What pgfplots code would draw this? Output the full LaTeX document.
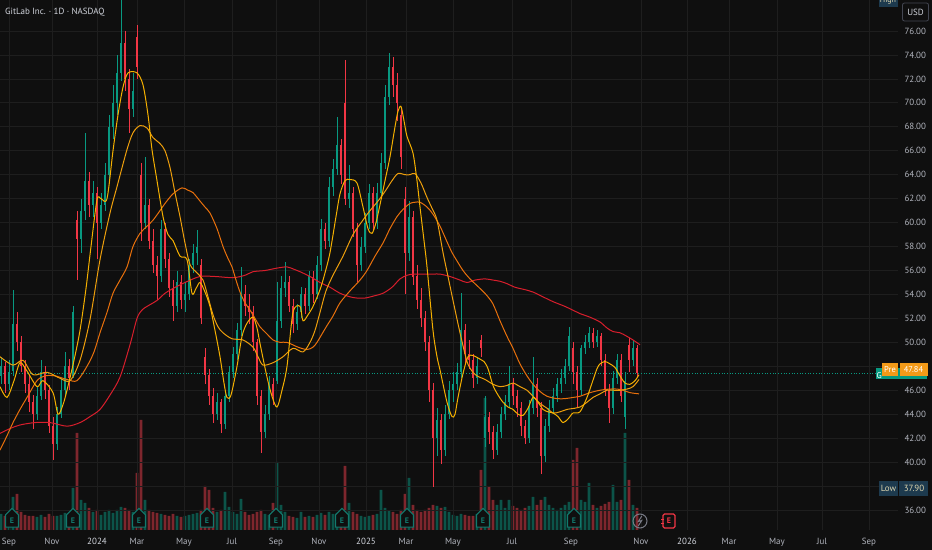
\documentclass[border=0pt]{standalone}
\usepackage{fontspec}
\setmainfont{PT Sans}
\usepackage{pgfplots}
\pgfplotsset{compat=1.18}
\usepackage{pgfplotstable}
\usetikzlibrary{shapes.symbols}
\definecolor{bg}{HTML}{0F0F0F}
\definecolor{gridc}{HTML}{1E1E1E}
\definecolor{txt}{HTML}{B2B5BE}
\definecolor{txtb}{HTML}{D1D4DC}
\definecolor{up}{HTML}{089981}
\definecolor{dn}{HTML}{F23645}
\definecolor{vup}{HTML}{0C5449}
\definecolor{vdn}{HTML}{7E262D}
\definecolor{maA}{HTML}{F5B000}
\definecolor{maB}{HTML}{EE9F0C}
\definecolor{maC}{HTML}{E8700C}
\definecolor{maD}{HTML}{D81E2C}
\definecolor{eteal}{HTML}{12796D}
\definecolor{lowbg}{HTML}{1D3A4E}
\definecolor{lowtx}{HTML}{DCD4AE}
\definecolor{prebg}{HTML}{F29A18}
\definecolor{boxgr}{HTML}{434651}
\definecolor{icongr}{HTML}{787B86}
\newcommand\lbl{\fontsize{9}{10}\selectfont}

\pgfplotstableread{
x o h l c v
1 47.2 48.8 46.5 48.0 16
5 48.0 48.4 45.8 46.5 14
9 46.5 48.5 46.0 47.5 13
13 47.6 54.4 47.2 51.5 33
17 51.5 52.5 49.3 50.0 36
21 50.0 50.5 47.5 48.0 18
25 48.0 48.5 45.8 46.5 15
29 46.5 47.2 44.2 45.0 14
33 45.0 45.6 42.8 44.0 14
37 44.0 46.3 43.5 45.5 13
41 45.5 48.5 45.2 47.5 15
45 47.5 48.0 45.3 46.0 13
49 46.0 46.4 42.4 43.0 16
53 43.0 43.8 40.2 41.5 14
57 41.5 44.6 41.0 44.0 14
61 44.0 47.0 43.7 46.0 15
65 46.0 49.2 45.5 48.0 17
69 48.0 48.6 46.0 47.0 16
73 47.2 53.0 47.0 52.5 42
77 60.2 61.0 55.2 58.6 97
81 58.6 62.0 57.5 61.0 30
85 61.0 67.5 60.2 63.5 27
89 63.5 64.2 60.5 61.5 22
93 61.5 63.5 60.5 62.5 18
97 62.5 63.0 57.0 60.0 20
101 60.0 62.5 59.5 61.5 15
105 61.5 65.0 61.0 64.0 18
109 64.0 69.0 63.5 68.0 20
113 68.0 71.5 67.0 70.0 17
117 70.0 74.0 69.0 72.5 20
121 72.5 78.6 71.8 75.0 23
125 75.0 76.0 71.0 72.0 22
129 72.0 72.8 67.5 69.5 20
133 69.5 72.5 68.8 71.0 18
137 75.5 76.5 72.0 73.0 57
141 64.0 65.0 58.5 60.0 110
145 60.0 65.5 59.5 61.5 30
149 61.5 62.0 57.8 58.5 20
153 58.5 59.5 55.8 56.5 18
157 56.5 57.2 53.5 55.5 17
161 55.5 60.2 55.0 59.5 16
165 59.5 60.0 56.2 57.0 15
169 57.0 57.5 53.8 54.5 14
173 54.5 55.2 51.8 53.0 16
177 53.0 56.0 52.5 55.0 14
181 55.0 55.6 52.8 53.5 13
185 53.5 55.0 52.5 54.0 14
189 54.0 57.0 53.5 56.5 15
193 56.5 58.2 55.8 57.5 16
197 57.5 59.4 56.5 58.0 17
201 56.5 57.0 51.5 52.0 20
205 48.8 49.5 46.5 47.3 44
209 47.3 47.8 44.8 45.5 40
213 45.5 46.2 43.3 44.0 22
217 44.0 45.8 43.5 45.0 18
221 45.0 45.3 42.4 43.2 20
225 43.2 46.0 42.8 45.5 38
229 45.5 48.0 45.0 47.5 23
233 47.5 49.6 47.0 49.0 18
237 49.0 51.6 48.5 51.0 16
241 51.0 56.3 50.5 54.0 31
245 54.0 54.8 52.2 53.0 18
249 53.0 54.0 51.5 52.5 15
253 52.5 53.0 49.3 50.0 16
257 50.0 50.3 44.8 45.5 18
261 45.5 46.0 40.8 42.5 20
265 42.5 44.8 42.0 44.0 16
269 44.0 47.2 43.5 46.5 15
273 46.5 47.0 44.8 45.5 27
277 46.8 55.0 46.5 51.8 68
281 51.8 55.5 51.2 54.5 25
285 54.5 56.7 53.8 55.0 18
289 55.0 55.5 52.5 53.0 14
293 53.0 53.6 50.8 51.5 13
297 51.5 53.2 51.0 52.5 12
301 52.5 54.6 52.0 54.0 18
305 54.0 54.5 52.4 53.0 13
309 53.0 56.0 52.6 55.5 14
313 55.5 56.0 53.3 54.0 13
317 54.0 57.2 53.6 56.5 15
321 56.5 60.3 56.0 59.5 17
325 59.5 60.0 57.8 58.5 15
329 58.5 63.8 58.0 63.0 18
333 63.0 65.3 62.2 64.5 16
337 64.5 68.8 64.0 66.5 17
341 66.5 67.0 63.2 64.0 20
345 70.0 73.6 61.5 62.0 64
349 62.0 64.8 61.2 62.5 27
353 62.5 63.0 58.8 59.5 18
357 59.5 60.0 55.0 56.5 16
361 56.5 58.8 56.0 58.0 14
365 58.0 60.8 57.5 60.0 13
369 60.0 63.2 59.5 62.5 14
373 62.5 63.0 59.3 60.0 15
377 60.0 63.3 59.5 62.5 16
381 62.5 65.8 62.0 65.0 40
385 65.0 71.5 64.5 70.5 22
389 70.5 74.2 69.8 73.0 19
393 73.0 73.8 70.5 71.5 18
397 71.5 72.5 68.5 70.0 16
401 69.0 69.6 64.5 65.5 20
405 62.0 63.0 54.0 57.5 36
409 57.5 61.8 56.8 60.5 52
413 60.5 61.0 54.8 55.5 25
417 55.5 56.5 52.8 53.5 20
421 53.5 54.5 51.3 52.0 18
425 52.0 52.6 49.3 50.0 20
429 50.0 50.5 45.0 46.0 22
433 46.0 46.6 37.9 42.0 25
437 42.0 44.5 40.5 43.5 24
441 43.5 44.0 39.8 41.0 22
445 41.0 44.8 40.5 44.0 23
449 44.0 46.8 43.6 46.0 18
453 46.0 47.5 45.0 46.5 15
457 46.5 48.3 46.0 47.5 14
461 47.5 54.1 47.0 51.0 16
465 51.0 51.5 48.3 49.0 15
469 49.0 50.2 47.8 48.5 14
473 48.5 49.0 46.2 47.0 14
477 47.0 48.8 46.5 48.0 16
481 50.2 50.6 48.8 49.5 60
485 42.0 45.5 41.3 43.8 132
489 43.8 44.2 41.5 42.5 43
493 42.5 43.0 40.3 41.0 30
497 41.0 43.2 40.6 42.5 25
501 42.5 44.6 42.0 44.0 30
505 44.0 45.6 43.5 45.0 22
509 45.0 48.0 44.6 46.5 30
513 46.5 47.0 44.8 45.5 24
517 45.5 46.0 43.8 44.5 22
521 44.5 45.0 42.2 43.0 20
525 43.0 43.5 41.5 42.0 22
529 42.0 45.2 41.6 44.5 24
533 44.5 48.8 44.0 46.5 33
537 46.5 47.0 43.8 44.5 25
541 44.5 45.0 39.0 40.5 30
545 40.5 43.6 40.0 43.0 33
549 43.0 45.2 42.5 44.5 25
553 44.5 46.2 44.0 45.5 22
557 45.5 47.0 45.0 46.5 20
561 46.5 47.8 45.8 47.0 22
565 47.0 48.6 46.5 48.0 25
569 48.0 51.3 47.6 50.5 28
573 49.5 50.0 46.5 47.5 70
577 47.5 48.0 44.5 46.0 82
581 46.0 49.8 45.6 49.5 30
585 49.5 50.6 49.0 50.0 28
589 50.0 51.3 49.5 50.8 47
593 50.8 51.2 49.5 50.0 25
597 50.0 51.0 49.6 50.5 22
601 50.5 50.8 48.0 48.5 24
605 48.5 49.0 45.5 46.0 26
609 46.0 46.5 43.3 44.5 28
613 44.5 47.6 44.0 47.0 45
617 47.0 49.0 46.5 48.5 28
621 48.5 49.0 45.0 45.5 30
625 43.8 47.5 42.8 46.8 97
629 49.8 50.4 47.5 48.5 50
633 48.5 50.2 48.0 49.5 25
637 49.5 49.8 47.0 47.4 22
}\candles

\begin{document}
\begin{tikzpicture}
\fill[bg] (0,0) rectangle (932bp,550bp);

% volume
\begin{axis}[at={(0,20bp)}, anchor=south west, scale only axis,
  width=898bp, height=530bp, xmin=0, xmax=898, ymin=0, ymax=530,
  axis lines=none, clip=true]
\addplot[ybar, bar shift=0pt, bar width=2.6bp, fill=vup, draw=none,
  restrict expr to domain={\thisrow{c}-\thisrow{o}}{0:1000}]
  table[x=x, y=v]{\candles};
\addplot[ybar, bar shift=0pt, bar width=2.6bp, fill=vdn, draw=none,
  restrict expr to domain={\thisrow{c}-\thisrow{o}}{-1000:0}]
  table[x=x, y=v]{\candles};
\end{axis}

% price
\begin{axis}[at={(0,20bp)}, anchor=south west, scale only axis,
  width=898bp, height=530bp, xmin=0, xmax=898, ymin=34.33, ymax=78.59,
  axis line style={draw=none}, tick style={draw=none}, major tick length=0pt,
  grid=major, grid style={draw=gridc, line width=0.8bp},
  xtick={9,52,97,137,184,232,276,319,366,406,453,512,571,641,687,729,777,822,869},
  xticklabels={Sep,Nov,\textcolor{txtb}{2024},Mar,May,Jul,Sep,Nov,\textcolor{txtb}{2025},Mar,May,Jul,Sep,Nov,\textcolor{txtb}{2026},Mar,May,Jul,Sep},
  xticklabel style={anchor=base, yshift=-14bp, font=\lbl, text=txt},
  ytick={36,38,...,76},
  yticklabel pos=right,
  yticklabels={36.00,{},40.00,42.00,44.00,46.00,{},50.00,52.00,54.00,56.00,58.00,60.00,62.00,64.00,66.00,68.00,70.00,72.00,74.00,76.00},
  yticklabel style={anchor=west, xshift=3bp, font=\lbl, text=txt},
  clip=true]
% dotted last price line
\addplot[up, dotted, line width=0.7bp, forget plot] coordinates {(0,47.4)(880,47.4)};
% wicks
\addplot[draw=none, mark=none, forget plot,
  restrict expr to domain={\thisrow{c}-\thisrow{o}}{0:1000},
  error bars/.cd, y dir=both, y explicit, error mark=none,
  error bar style={draw=up, line width=0.8bp}]
  table[x=x, y expr={(\thisrow{h}+\thisrow{l})/2}, y error expr={(\thisrow{h}-\thisrow{l})/2}]{\candles};
\addplot[draw=none, mark=none, forget plot,
  restrict expr to domain={\thisrow{c}-\thisrow{o}}{-1000:0},
  error bars/.cd, y dir=both, y explicit, error mark=none,
  error bar style={draw=dn, line width=0.8bp}]
  table[x=x, y expr={(\thisrow{h}+\thisrow{l})/2}, y error expr={(\thisrow{h}-\thisrow{l})/2}]{\candles};
% bodies
\addplot[draw=none, mark=none, forget plot,
  restrict expr to domain={\thisrow{c}-\thisrow{o}}{0:1000},
  error bars/.cd, y dir=both, y explicit, error mark=none,
  error bar style={draw=up, line width=2.4bp}]
  table[x=x, y expr={(\thisrow{o}+\thisrow{c})/2}, y error expr={abs(\thisrow{c}-\thisrow{o})/2}]{\candles};
\addplot[draw=none, mark=none, forget plot,
  restrict expr to domain={\thisrow{c}-\thisrow{o}}{-1000:0},
  error bars/.cd, y dir=both, y explicit, error mark=none,
  error bar style={draw=dn, line width=2.4bp}]
  table[x=x, y expr={(\thisrow{o}+\thisrow{c})/2}, y error expr={abs(\thisrow{c}-\thisrow{o})/2}]{\candles};

% moving averages
\addplot[maD, line width=1bp, smooth, tension=0.5] coordinates {
(0,42.4)(10,42.8)(20,43.1)(35,43.3)(50,43.3)(67,43.0)(80,43.3)(90,43.8)(100,44.4)(110,45.6)(120,47.1)(130,49.8)(137,52.0)(142,52.7)(147,53.0)(157,53.5)(165,54.1)(173,54.5)(185,55.0)(200,55.5)(215,55.5)(233,55.4)(245,55.6)(253,55.9)(265,56.0)(277,56.2)(287,56.3)(294,56.1)(300,55.9)(310,55.5)(320,55.0)(330,54.6)(340,54.1)(350,53.8)(357,53.7)(365,53.7)(375,53.9)(383,54.1)(392,54.6)(400,55.3)(407,55.6)(413,55.7)(420,55.7)(433,55.7)(440,55.7)(450,55.5)(460,55.2)(467,55.0)(475,55.2)(485,55.3)(493,55.2)(500,55.1)(507,54.9)(515,54.6)(525,54.4)(533,54.2)(543,53.8)(553,53.4)(565,53.0)(575,52.6)(580,52.4)(590,52.1)(600,51.7)(607,51.2)(613,50.9)(620,50.8)(627,50.5)(633,50.2)(640,49.8)};
\addplot[maC, line width=1bp, smooth, tension=0.5] coordinates {
(0,41.0)(7,42.2)(13,43.3)(20,44.4)(27,45.4)(37,46.8)(45,47.2)(55,47.2)(67,46.9)(77,46.8)(87,48.0)(94,49.2)(100,50.8)(107,52.5)(113,54.1)(120,55.2)(127,56.3)(133,58.0)(140,59.1)(147,59.7)(153,60.2)(160,61.0)(165,61.6)(173,62.4)(182,62.9)(188,62.7)(193,62.5)(200,61.8)(205,61.3)(210,60.8)(217,59.5)(223,58.0)(228,57.0)(232,56.3)(236,55.2)(240,54.2)(245,53.3)(250,52.7)(255,52.0)(260,51.3)(267,50.7)(273,50.2)(280,50.0)(287,50.0)(298,49.6)(307,49.4)(313,49.6)(317,50.0)(322,50.7)(327,51.4)(333,52.2)(340,53.3)(350,54.3)(360,55.2)(367,56.0)(375,57.2)(383,58.3)(390,59.5)(397,60.5)(403,61.1)(410,61.6)(415,61.7)(420,61.7)(427,61.3)(433,60.7)(440,59.7)(447,58.4)(452,57.5)(457,56.8)(463,56.0)(470,55.3)(480,54.5)(487,53.9)(493,53.2)(500,51.8)(507,50.5)(513,49.5)(520,48.2)(527,47.2)(533,46.5)(540,45.9)(547,45.5)(557,45.3)(565,45.3)(573,45.4)(580,45.5)(590,45.8)(600,46.0)(610,46.1)(617,46.1)(623,46.0)(630,45.8)(639,45.7)};
\addplot[maB, line width=1bp, smooth, tension=0.5] coordinates {
(0,48.8)(13,48.1)(23,48.5)(33,47.3)(47,47.5)(60,47.0)(70,46.8)(80,48.5)(90,51.9)(100,56.9)(110,60.8)(117,63.0)(127,66.1)(133,67.5)(140,68.1)(147,67.9)(153,67.1)(160,66.6)(165,66.0)(170,64.6)(175,62.5)(180,60.5)(185,58.3)(190,56.5)(197,55.8)(203,55.2)(208,53.8)(213,52.3)(218,51.3)(223,50.8)(232,50.3)(243,50.2)(253,49.6)(258,48.8)(263,48.1)(273,48.3)(283,48.8)(293,49.5)(303,49.2)(310,50.0)(315,51.0)(320,52.5)(326,54.3)(333,55.6)(343,57.2)(353,59.0)(362,60.1)(370,61.0)(378,61.8)(385,62.6)(392,63.5)(398,64.1)(405,64.0)(410,64.0)(415,64.1)(421,63.3)(427,62.1)(432,61.2)(437,60.2)(443,57.5)(448,55.5)(453,53.5)(460,50.8)(467,48.4)(472,47.6)(477,47.2)(485,46.9)(493,46.5)(500,46.3)(507,46.4)(513,46.6)(520,46.3)(527,46.0)(533,45.5)(540,44.9)(547,44.5)(553,44.1)(560,44.2)(567,44.4)(575,44.5)(580,44.6)(587,45.0)(593,45.4)(600,45.7)(607,46.0)(614,46.0)(620,46.0)(627,46.1)(633,46.3)(639,46.9)};
\addplot[maA, line width=1bp, smooth, tension=0.5] coordinates {
(0,46.3)(7,45.4)(14,46.8)(20,48.3)(27,47.6)(37,46.3)(43,46.8)(53,45.8)(58,44.0)(63,44.8)(67,46.0)(74,48.5)(80,51.0)(86,54.5)(91,58.0)(97,61.9)(101,62.0)(107,62.0)(113,66.0)(118,69.0)(123,71.3)(128,72.5)(137,72.5)(143,71.5)(148,69.0)(152,66.1)(157,63.5)(163,60.5)(168,59.0)(173,58.5)(180,57.2)(187,56.9)(192,54.1)(196,54.5)(200,55.0)(205,54.2)(210,53.0)(215,51.0)(220,48.8)(224,46.6)(227,45.4)(231,45.6)(237,48.0)(242,50.5)(247,51.6)(253,52.1)(257,51.2)(260,49.9)(267,47.1)(272,45.5)(277,44.6)(282,46.0)(287,48.0)(293,52.5)(300,53.0)(303,51.8)(308,52.3)(313,53.0)(320,54.4)(325,55.8)(330,57.5)(336,60.5)(340,62.4)(345,63.5)(350,63.6)(357,63.3)(363,61.3)(368,59.5)(372,59.1)(376,60.0)(380,61.5)(385,63.5)(390,65.5)(395,68.0)(398,69.3)(401,69.7)(404,68.5)(407,67.2)(413,65.8)(417,63.5)(420,61.3)(424,58.5)(427,56.3)(433,51.0)(437,48.8)(440,47.7)(447,45.0)(452,43.8)(455,44.0)(458,45.4)(463,47.4)(468,48.8)(473,48.9)(480,48.6)(484,48.4)(488,47.8)(493,46.4)(498,45.6)(503,45.0)(508,44.6)(513,44.4)(518,44.0)(523,43.9)(528,44.5)(533,45.4)(538,45.0)(543,44.4)(548,44.2)(553,44.1)(558,43.8)(563,43.3)(568,43.6)(573,44.1)(580,44.2)(587,45.4)(592,46.6)(597,47.8)(600,48.2)(605,48.4)(610,48.2)(615,47.9)(620,47.2)(625,46.6)(630,46.5)(635,46.8)(639,47.3)};
\end{axis}

% annotations
\node[anchor=west, text=txtb, font=\fontsize{9}{10}\selectfont, inner sep=0pt] at (5bp,538bp) {GitLab Inc. · 1D · NASDAQ};
\node[fill=lowbg, text=lowtx, font=\fontsize{8}{9}\selectfont, inner sep=1pt, minimum width=19bp, minimum height=12bp, anchor=south] at (888bp,543bp) {High};
\node[draw=boxgr, rounded corners=2bp, line width=0.8bp, minimum width=26bp, minimum height=18bp, inner sep=0pt, text=txtb, font=\lbl] at (915.5bp,538bp) {USD};
% GTLB and Pre labels
\fill[up] (876bp,171bp) rectangle (927bp,182bp);
\node[text=white, font=\fontsize{8.5}{9}\selectfont, inner sep=0pt, anchor=west] at (876.5bp,174.5bp) {G};
\node[fill=prebg, text=white, font=\fontsize{8.5}{9}\selectfont, inner sep=0pt, minimum width=16bp, minimum height=13bp] at (890bp,180.5bp) {Pre};
\node[fill=prebg, text=white, font=\fontsize{8.5}{9}\selectfont, inner sep=0pt, minimum width=28bp, minimum height=13bp] at (913.5bp,180.5bp) {47.84};
% Low label
\fill[lowbg] (879bp,54bp) rectangle (928bp,69bp);
\node[text=lowtx, font=\lbl, inner sep=0pt] at (888.5bp,61.5bp) {Low};
\node[text=lowtx, font=\lbl, inner sep=0pt] at (914bp,61.5bp) {37.90};
\draw[bg, line width=0.8bp] (898.5bp,54bp) -- (898.5bp,69bp);
% earnings markers
\foreach \ex in {12,73,139,207,276,342,407,483,574}{
  \node[signal, signal to=north, signal from=nowhere, draw=eteal, fill=bg, line width=1.1bp,
        text=eteal, font=\fontsize{8}{8}\selectfont\bfseries, inner sep=0.6pt,
        minimum width=13bp, minimum height=15bp] at (\ex bp,29bp) {E};
}
\draw[icongr, line width=1bp] (640bp,29bp) circle (7bp);
\draw[icongr, line width=1bp] (641.8bp,34bp) -- (638.3bp,28.5bp) -- (641.7bp,29.5bp) -- (638.2bp,24bp);
\node[draw=dn, fill=bg, line width=1.1bp, rounded corners=1.5bp, text=dn, font=\fontsize{8}{8}\selectfont\bfseries,
      inner sep=0.6pt, minimum width=12bp, minimum height=14bp] at (669bp,29bp) {E};
\draw[dn, line width=0.9bp] (661bp,31bp) -- (664bp,31bp) (661bp,27bp) -- (664bp,27bp);

\pgfresetboundingbox
\path (0,0) rectangle (932bp,550bp);
\end{tikzpicture}
\end{document}
